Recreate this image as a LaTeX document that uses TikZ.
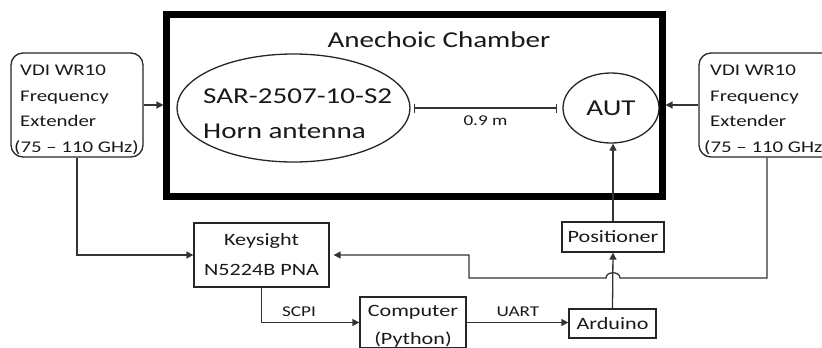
\documentclass[tikz,border=0pt]{standalone}
\usepackage{fontspec}
\setmainfont{Carlito}[FakeStretch=1.28]
\usetikzlibrary{arrows.meta,shapes.geometric,shapes.misc}
\tikzset{
  box/.style={draw=black!85, line width=1.3bp, inner sep=0pt},
  conn/.style={draw=black!80, line width=1.3bp},
  arr/.style={conn, -{Triangle[length=7bp,width=7bp]}},
  bigtxt/.style={font=\fontsize{22.7bp}{34.7bp}\selectfont},
  midtxt/.style={font=\fontsize{17.3bp}{30bp}\selectfont},
  vditxt/.style={font=\fontsize{16.3bp}{25.5bp}\selectfont},
  smalltxt/.style={font=\fontsize{15bp}{18bp}\selectfont},
}
\begin{document}
\begin{tikzpicture}[x=1bp,y=-1bp, every node/.append style={text=black!90}]
\useasboundingbox (0,0) rectangle (822,347);
\clip (0,0) rectangle (822,347);
% chamber
\node[draw=black, line width=7bp, minimum width=495bp, minimum height=182bp, inner sep=0pt] (chamber) at (414.5,105) {};
\node[bigtxt] (title) at (439,40) {Anechoic Chamber};
% horn
\node[box, ellipse, minimum width=233bp, minimum height=108bp] (horn) at (293.5,108) {};
\node[bigtxt, align=left, anchor=north west, inner sep=0pt] (horntext) at (203,88.5) {SAR-2507-10-S2\\Horn antenna};
% AUT
\node[box, ellipse, minimum width=96bp, minimum height=70bp] (aut) at (611,108) {};
\node[bigtxt] (auttext) at (611,108) {AUT};
% distance
\draw[conn, {Bar[width=9bp]}-{Bar[width=9bp]}] ([xshift=3bp]horn.east) -- ([xshift=-5bp]aut.west);
\node[smalltxt] (dist) at (485.5,121) {0.9 m};
% extenders
\node[box, rounded corners=12bp, minimum width=132bp, minimum height=104bp] (vdiL) at (77,105) {};
\node[vditxt, align=left, anchor=north west, inner sep=0pt] (vdiLt) at (20,65) {VDI WR10\\Frequency\\Extender\\\hspace*{-6bp}(75 – 110 GHz)};
\node[box, rounded corners=12bp, minimum width=136bp, minimum height=104bp] (vdiR) at (767,105) {};
\node[vditxt, align=left, anchor=north west, inner sep=0pt] (vdiRt) at (710,65) {VDI WR10\\Frequency\\Extender\\\hspace*{-6bp}(75 – 110 GHz)};
\draw[arr] (vdiL.east) -- (vdiL.east -| chamber.west);
\draw[arr] (vdiR.west) -- (vdiR.west -| chamber.east);
% lower blocks
\node[box, midtxt, align=center, minimum width=135bp, minimum height=64bp] (key) at (261.5,255) {Keysight\\N5224B PNA};
\node[box, midtxt, minimum width=102bp, minimum height=30bp] (pos) at (613,237) {Positioner};
\node[box, midtxt, minimum width=87bp, minimum height=29bp] (ard) at (612.5,323.5) {Arduino};
\node[box, chamfered rectangle, chamfered rectangle corners={north east,south west}, chamfered rectangle xsep=7bp, chamfered rectangle ysep=7bp, minimum width=106bp, minimum height=51bp] (comp) at (413,322.5) {};
\node[align=center, anchor=north, inner sep=0pt, font=\fontsize{17.3bp}{28bp}\selectfont] (comptext) at (413,305) {Computer\\(Python)};
% connectors
\draw[arr] (vdiL.south) |- (key.west);
\draw[arr] (key.south) |- (comp.west);
\draw[arr] (comp.east) -- (comp.east -| ard.west);
\draw[arr] (ard.north) -- (pos.south);
\draw[arr] (pos.north) -- (pos.north |- aut.south);
\coordinate (hopR) at (620,278);
\coordinate (hopL) at (606,278);
\coordinate (bend) at (469,278);
\draw[arr, shorten >=4bp] (vdiR.south) |- (hopR) .. controls +(0,-7) and +(0,-7) .. (hopL) -- (bend) |- (key.east);
\node[smalltxt] (scpi) at (299,312) {SCPI};
\node[smalltxt] (uart) at (518,312) {UART};
\end{tikzpicture}
\end{document}
